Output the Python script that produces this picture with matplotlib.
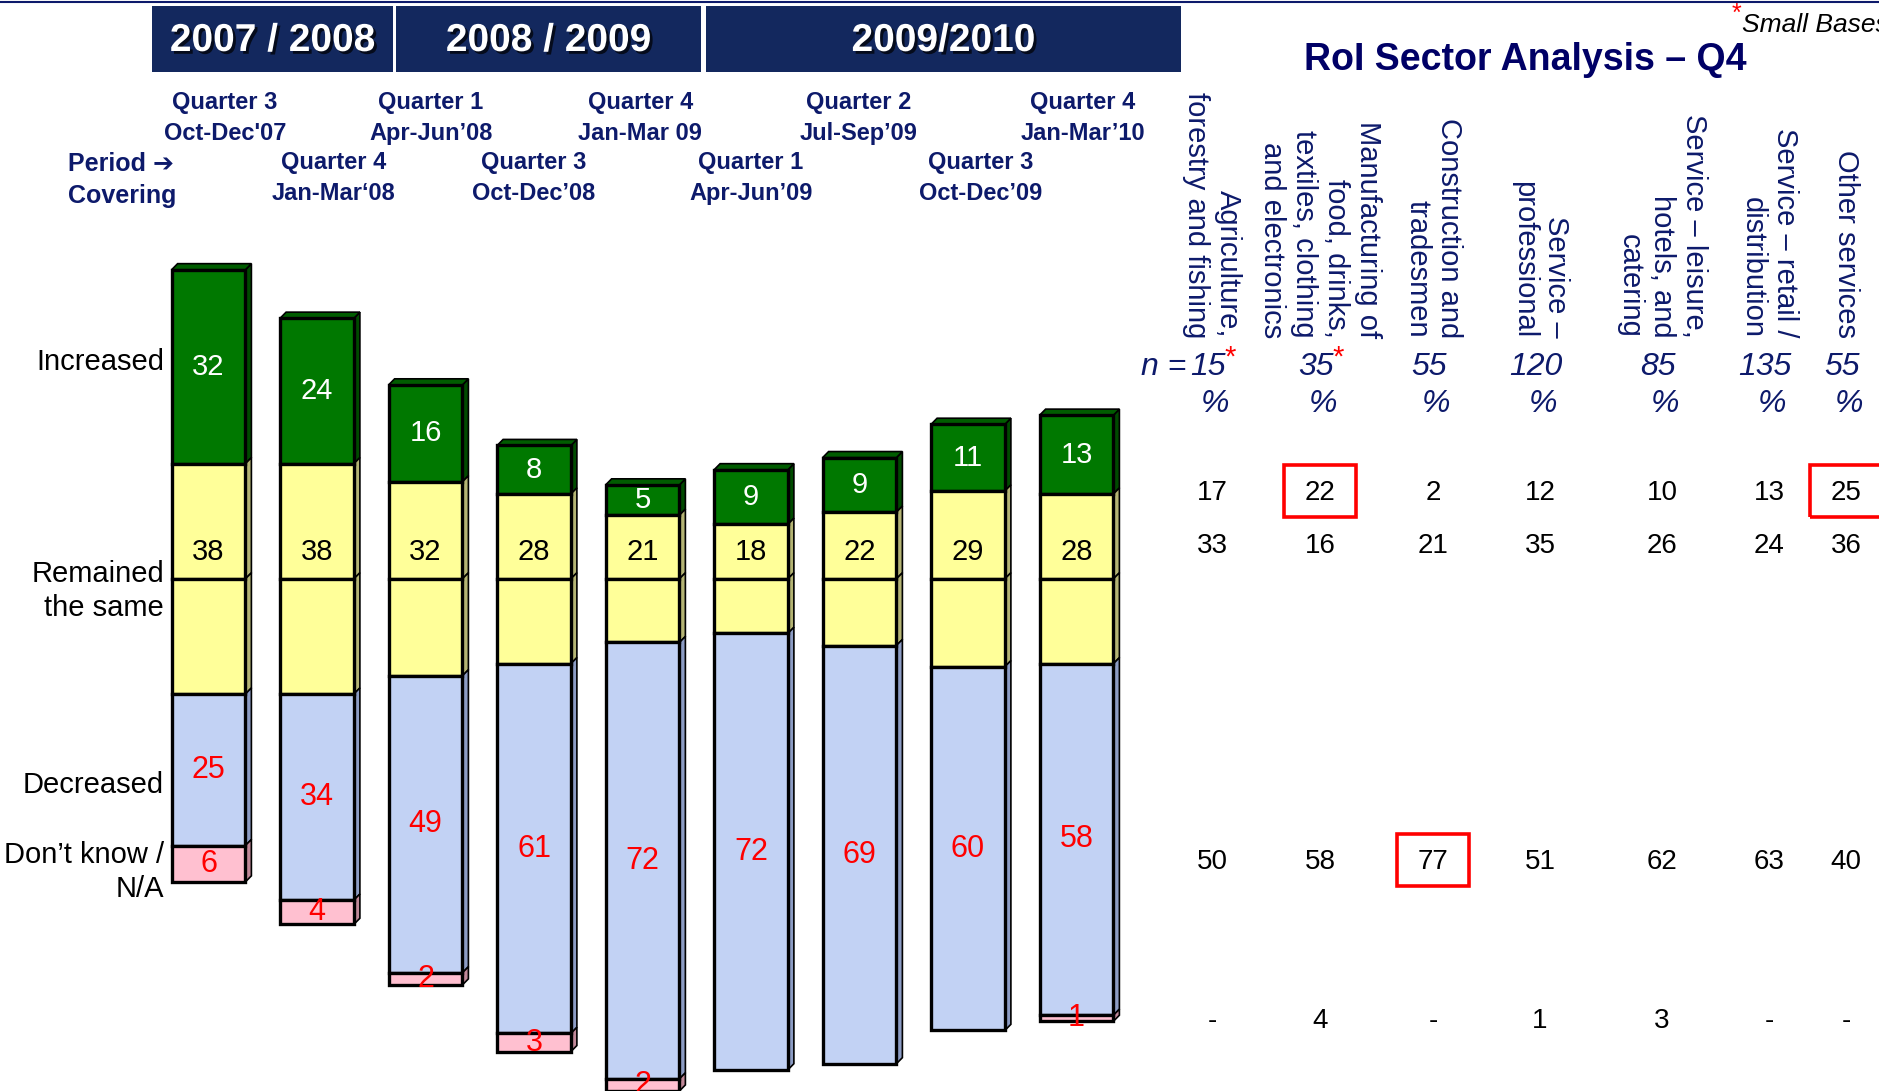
import matplotlib.pyplot as plt
import matplotlib.patheffects as pe
from matplotlib.patches import Polygon, Rectangle

# ---- data (left: waves of the survey) ----
years = ["2007 / 2008", "2008 / 2009", "2009/2010"]
quarters = ["Quarter 3\nOct-Dec'07", "Quarter 4\nJan-Mar\u201808", "Quarter 1\nApr-Jun\u201908",
            "Quarter 3\nOct-Dec\u201908", "Quarter 4\nJan-Mar 09", "Quarter 1\nApr-Jun\u201909",
            "Quarter 2\nJul-Sep\u201909", "Quarter 3\nOct-Dec\u201909", "Quarter 4\nJan-Mar\u201910"]
increased = [32, 24, 16, 8, 5, 9, 9, 11, 13]
remained = [38, 38, 32, 28, 21, 18, 22, 29, 28]
decreased = [25, 34, 49, 61, 72, 72, 69, 60, 58]
dont_know = [6, 4, 2, 3, 2, 0, 0, 0, 1]
row_labels = ["Increased", "Remained\nthe same", "Decreased", "Don\u2019t know /\nN/A"]

# ---- data (right: sector table) ----
sectors = ["Agriculture,\nforestry and fishing",
           "Manufacturing of\nfood, drinks,\ntextiles, clothing\nand electronics",
           "Construction and\ntradesmen", "Service \u2013\nprofessional",
           "Service \u2013 leisure,\nhotels, and\ncatering",
           "Service \u2013 retail /\ndistribution", "Other services"]
base_n = [15, 35, 55, 120, 85, 135, 55]
small_base = [True, True, False, False, False, False, False]
sec_increased = ["17", "22", "2", "12", "10", "13", "25"]
sec_remained = ["33", "16", "21", "35", "26", "24", "36"]
sec_decreased = ["50", "58", "77", "51", "62", "63", "40"]
sec_dont_know = ["-", "4", "-", "1", "3", "-", "-"]
highlight = [(0, 1), (0, 6), (2, 2)]  # (row, column) boxed in red

W, H = 1879, 1091
fig = plt.figure(figsize=(W / 100, H / 100), dpi=100)
fig.patch.set_facecolor("white")


def px(x, y):
    return x / W, 1 - y / H


REG = ["Liberation Sans", "DejaVu Sans"]
NAVY = "#0d1a6b"

# ---- bar axes ----
ax = fig.add_axes([0, 0, 1, 1])
ax.set_xlim(-1.922, 15.396)
ax.set_ylim(-84.5, 95.5)
ax.axis("off")

bw = 0.68
dx, dy = 0.055, 1.0
cols = [("#007800", "#004a00"), ("#FFFF99", "#b4b474"), ("#C2D2F4", "#8c9cc4"), ("#FFC0D0", "#c08898")]

for i in range(len(increased)):
    inc, rem, dec, dk = increased[i], remained[i], decreased[i], dont_know[i]
    segs = [(rem / 2, inc, 0), (0, rem / 2, 1), (-rem / 2, rem / 2, 1),
            (-rem / 2 - dec, dec, 2)]
    if dk > 0:
        segs.append((-rem / 2 - dec - dk, dk, 3))
    for b, h, c in segs:
        ax.bar(i, h, bottom=b, width=bw, color=cols[c][0], edgecolor="black", linewidth=2.4, zorder=3)
        xr = i + bw / 2
        ax.add_patch(Polygon([(xr, b), (xr + dx, b + dy), (xr + dx, b + h + dy), (xr, b + h)],
                             closed=True, facecolor=cols[c][1], edgecolor="black", linewidth=1.2, zorder=2))
    top = rem / 2 + inc
    ax.add_patch(Polygon([(i - bw / 2, top), (i - bw / 2 + dx, top + dy), (i + bw / 2 + dx, top + dy),
                          (i + bw / 2, top)], closed=True, facecolor="#005c00",
                         edgecolor="black", linewidth=1.2, zorder=2))
    ax.text(i, rem / 2 + inc / 2, str(inc), ha="center", va="center", color="white",
            fontsize=21, family=REG, zorder=5)
    ax.text(i, 4.4, str(rem), ha="center", va="center", color="black", fontsize=21, family=REG, zorder=5)
    ax.text(i, -rem / 2 - dec / 2, str(dec), ha="center", va="center", color="red",
            fontsize=22, family=REG, zorder=5)
    if dk > 0:
        ax.text(i, -rem / 2 - dec - dk / 2, str(dk), ha="center", va="center", color="red",
                fontsize=22, family=REG, zorder=5, clip_on=True)

# ---- top line and year header boxes ----
fig.add_artist(plt.Line2D([0, 1], [1 - 1.5 / H, 1 - 1.5 / H], color="#0d1a6b", lw=1.5))
boxes = [(152, 393), (396, 701), (706, 1181)]
for (x0, x1), label in zip(boxes, years):
    fig.add_artist(Rectangle(px(x0, 72), (x1 - x0) / W, 66 / H, transform=fig.transFigure,
                             facecolor="#13285e", edgecolor="none"))
    fig.text(*px((x0 + x1) / 2, 41), label, ha="center", va="center", color="white",
             fontsize=28, fontweight="bold", family=REG,
             path_effects=[pe.withSimplePatchShadow(offset=(2, -2), shadow_rgbFace="black", alpha=0.7)])

# ---- quarter labels (staggered) ----
q_off = [0.15, 0.15, 0.05, 0.0, -0.02, 0.0, -0.01, 0.12, 0.06]
for i, q in enumerate(quarters):
    cx = (i + q_off[i] + 1.922) * 108.5
    cy = 118 if i % 2 == 0 else 178
    fig.text(*px(cx, cy), q, ha="center", va="center", color=NAVY, fontsize=17,
             fontweight="bold", family=REG, linespacing=1.4)
fig.text(*px(68, 180), "Period \u2794\nCovering", ha="left", va="center", color=NAVY, fontsize=18,
         fontweight="bold", family=REG, linespacing=1.45)

# ---- row labels ----
for lab, y in zip(row_labels, [362, 591, 785, 872]):
    fig.text(*px(164, y), lab, ha="right", va="center", color="black", fontsize=21,
             family=REG, multialignment="right", linespacing=1.25)

# ---- right side ----
fig.text(*px(1525, 60), "RoI Sector Analysis \u2013 Q4", ha="center", va="center", color="#000066",
         fontsize=27, fontweight="bold", family=REG)
fig.text(*px(1736, 14), "*", ha="center", va="center", color="red", fontsize=18, family=REG)
fig.text(*px(1742, 25), "Small Bases", ha="left", va="center", color="black", fontsize=19,
         style="italic", family=REG)

col_x = [1212, 1320, 1433, 1540, 1662, 1769, 1846]
for x, s in zip(col_x, sectors):
    fig.text(*px(x, 338), s, ha="center", va="bottom", rotation=270, color=NAVY, fontsize=21,
             family=REG, multialignment="right", linespacing=1.18)
for x, n, sb in zip(col_x, base_n, small_base):
    fig.text(*px(x - 4, 367), str(n), ha="center", va="center", color=NAVY, fontsize=23,
             style="italic", family=REG)
    if sb:
        fig.text(*px(x + 12 + 7 * (len(str(n)) - 2), 358), "*", ha="left", va="center", color="red",
                 fontsize=21, family=REG)
    fig.text(*px(x + 3, 404), "%", ha="center", va="center", color=NAVY, fontsize=23,
             style="italic", family=REG)
fig.text(*px(col_x[0] - 26, 367), "n =", ha="right", va="center", color=NAVY, fontsize=23,
         style="italic", family=REG)

rows = [sec_increased, sec_remained, sec_decreased, sec_dont_know]
row_y = [493, 546, 862, 1021]
for r, (vals, y) in enumerate(zip(rows, row_y)):
    for c, (x, v) in enumerate(zip(col_x, vals)):
        fig.text(*px(x, y), v, ha="center", va="center", color="black", fontsize=20, family=REG)
for r, c in highlight:
    x, y = col_x[c], row_y[r]
    fig.add_artist(Rectangle(px(x - 36, y + 24), 72 / W, 52 / H, transform=fig.transFigure,
                             facecolor="none", edgecolor="red", linewidth=2.6))

fig.savefig("out.png", dpi=100)
